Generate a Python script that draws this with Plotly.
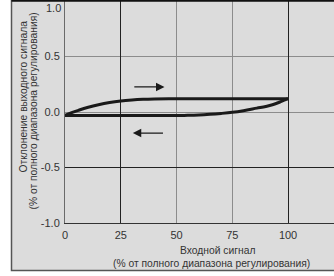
import plotly.graph_objects as go

# ---- data ----
in_up = [0, 3, 6, 10, 15, 20, 25, 30, 35, 40, 50, 60, 70, 80, 90, 100]
out_up = [-0.03, -0.005, 0.015, 0.04, 0.066, 0.086, 0.1, 0.109, 0.115, 0.118, 0.12, 0.12, 0.12, 0.12, 0.12, 0.12]
in_down = [100, 97, 93, 90, 86, 80, 75, 70, 65, 60, 55, 50, 40, 30, 20, 10, 0]
out_down = [0.12, 0.095, 0.065, 0.05, 0.035, 0.012, -0.003, -0.013, -0.021, -0.027, -0.03, -0.031, -0.031, -0.031, -0.031, -0.031, -0.031]

x_ticks = [0, 25, 50, 75, 100]
x_tick_text = ["0", "25", "50", "75", "100"]
y_ticks = [-1.0, -0.5, 0.0, 0.5]
y_tick_text = ["-1.0", "-0.5", "0.0", "0.5"]
y_top_tick = 1.0
y_top_text = "1.0"
x_dark_grid = [25, 100]
y_dark_grid = [-0.5]

arrow_fwd = dict(x0=30.4, x1=44.6, y=0.226)
arrow_back = dict(x0=44.6, x1=30.4, y=-0.19)

x_title = ["Входной сигнал", "(% от полного диапазона регулирования)"]
y_title = ["Отклонение выходного сигнала", "(% от полного диапазона регулирования)"]

FONT = "Liberation Sans, Arial, sans-serif"
TXT = "#333333"
TICK_SIZE = 11
TITLE_SIZE = 10.3
L, T, B = 65, 1, 53
W, H = 334, 276
PW, PH = W - L, H - T - B


def px(xp):
    return (xp - L) / PW


def py(yp):
    return (H - B - yp) / PH


fig = go.Figure()
fig.add_trace(go.Scatter(x=in_up, y=out_up, mode="lines",
                         line=dict(color="#1a1a1a", width=3, shape="spline"),
                         showlegend=False, hoverinfo="skip"))
fig.add_trace(go.Scatter(x=in_down, y=out_down, mode="lines",
                         line=dict(color="#1a1a1a", width=3, shape="spline"),
                         showlegend=False, hoverinfo="skip"))
# overlay subplot for the darker grid lines
fig.add_trace(go.Scatter(x=[None], y=[None], xaxis="x2", yaxis="y2",
                         showlegend=False, hoverinfo="skip"))

XR = [0, 120.6]
YR = [-1.0, 1.0]

fig.update_layout(
    width=W, height=H,
    margin=dict(l=L, r=0, t=T, b=B, pad=0),
    paper_bgcolor="white",
    plot_bgcolor="white",
    font=dict(family=FONT, size=TICK_SIZE, color=TXT),
    xaxis=dict(range=XR, tickvals=x_ticks, ticktext=x_tick_text,
               showgrid=True, gridcolor="#8c8c8c", gridwidth=1,
               zeroline=False, showline=True, linecolor="#333333", linewidth=1,
               ticks="", ticklabelstandoff=2, fixedrange=True),
    yaxis=dict(range=YR, tickvals=y_ticks, ticktext=y_tick_text,
               showgrid=True, gridcolor="#8c8c8c", gridwidth=1,
               zeroline=False, showline=True, linecolor="#6a6a6a", linewidth=1,
               ticks="", ticklabelstandoff=2, fixedrange=True),
    xaxis2=dict(range=XR, overlaying="x", tickvals=x_dark_grid, showticklabels=False,
                showgrid=True, gridcolor="#222222", gridwidth=1, zeroline=False,
                showline=False, ticks="", fixedrange=True),
    yaxis2=dict(range=YR, overlaying="y", tickvals=y_dark_grid, showticklabels=False,
                showgrid=True, gridcolor="#222222", gridwidth=1, zeroline=False,
                showline=False, ticks="", fixedrange=True),
)

# grey frame around the chart
fig.add_shape(type="rect", xref="paper", yref="paper",
              x0=px(11.5), x1=1.05, y0=py(270.5), y1=py(-2),
              fillcolor="#dcdcdc", line=dict(color="#555555", width=1.5), layer="below")
fig.add_shape(type="line", xref="paper", yref="paper",
              x0=px(11.5), x1=1.05, y0=py(0.8), y1=py(0.8),
              line=dict(color="#111111", width=2))

# top tick label (kept inside the picture)
fig.add_annotation(xref="paper", yref="y", x=px(62.5), y=y_top_tick, text=y_top_text,
                   showarrow=False, xanchor="right", yanchor="top", yshift=1,
                   font=dict(family=FONT, size=TICK_SIZE, color=TXT))

# direction arrows
for a in (arrow_fwd, arrow_back):
    fig.add_annotation(x=a["x1"], y=a["y"], ax=a["x0"], ay=a["y"],
                       xref="x", yref="y", axref="x", ayref="y", text="",
                       showarrow=True, arrowhead=2, arrowsize=1.3, arrowwidth=1.3,
                       arrowcolor="#1a1a1a")

# axis titles
tfont = dict(family=FONT, size=TITLE_SIZE, color=TXT)
fig.add_annotation(xref="paper", yref="paper", x=px(217.5), y=py(250), text=x_title[0],
                   showarrow=False, xanchor="center", yanchor="middle", font=tfont)
fig.add_annotation(xref="paper", yref="paper", x=px(211.5), y=py(263), text=x_title[1],
                   showarrow=False, xanchor="center", yanchor="middle", font=tfont)
fig.add_annotation(xref="paper", yref="paper", x=px(22.5), y=py(97), text=y_title[0],
                   showarrow=False, textangle=-90, xanchor="center", yanchor="middle", font=tfont)
fig.add_annotation(xref="paper", yref="paper", x=px(33), y=py(111.5), text=y_title[1],
                   showarrow=False, textangle=-90, xanchor="center", yanchor="middle", font=tfont)

fig.write_html("out.html", config={"displayModeBar": False},
               post_script="document.body.style.margin='0';document.body.style.overflow='hidden';")
